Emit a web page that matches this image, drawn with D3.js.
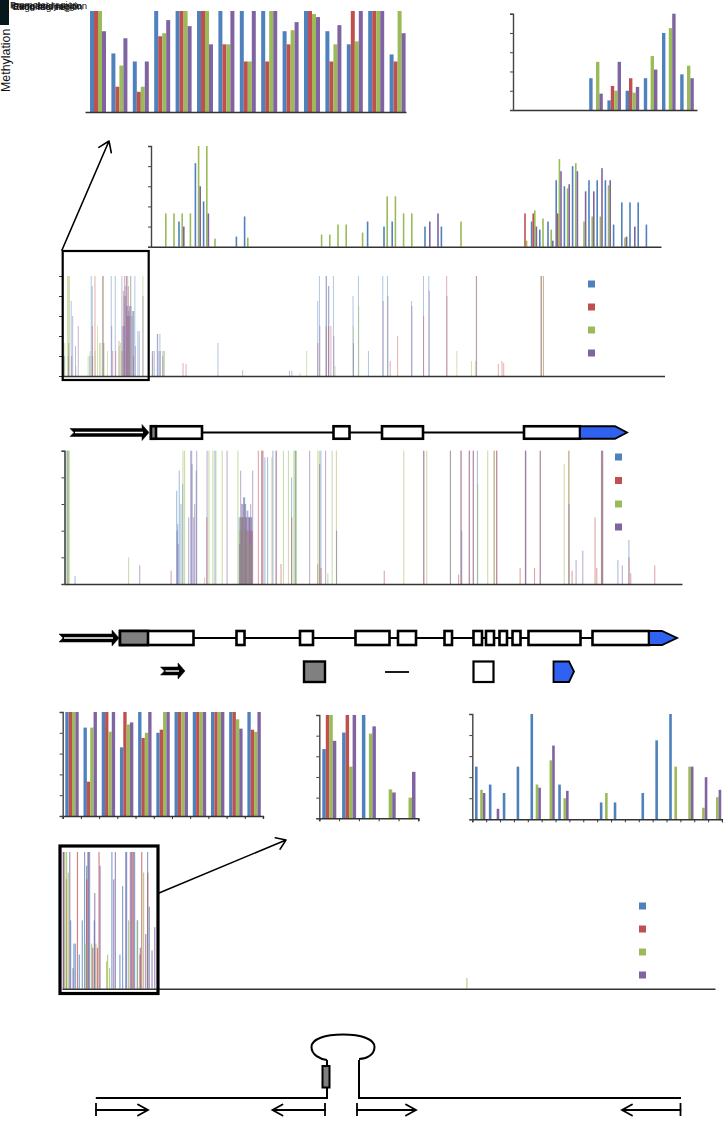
<!DOCTYPE html>
<html><head><meta charset="utf-8">
<script src="https://cdn.jsdelivr.net/npm/d3@7"></script>
<style>html,body{margin:0;padding:0;background:#fff}svg{display:block}text{font-family:"Liberation Sans",Arial,sans-serif}</style>
</head><body><svg id="c" width="723" height="1126"></svg>
<script>
// ---------- series ----------
const seriesNames = ["s1","s2","s3","s4"];
const seriesColors = ["#4f81bd","#c0504d","#9bbb59","#8064a2"];
const yAxisLabel = "Methylation";
const headerLabels = ["Promoter region","Intergenic region","Gene body region","Regulator region","Exon region"];

// Panel A
const aBlue  =[100,58,50,100,100,100,100,100,100,80,100,80,67,100,57];
const aRed   =[100,25,20,75,100,100,67,50,50,67,100,50,100,100,50];
const aGreen =[100,46,25,78,100,100,67,50,100,81,97,67,70,100,100];
const aPurple=[80,73,50,91,85,67,100,100,100,89,94,86,100,100,78];
// Panel B
const bBlue  =[0,0,0,0,33,10,20,33,80,37];
const bRed   =[0,0,0,0,0,25,33,0,0,0];
const bGreen =[0,0,0,0,50,20,18,56,85,46];
const bPurple=[0,0,0,0,17,50,24,42,100,33];
// Panel C (62 sites)
const cBlue  =[0,0,0,25,0,83,45,0,0,0,10,30,0,0,0,0,0,0,0,0,0,0,0,0,0,0,25,0,20,25,0,0,0,20,0,20,0,0,0,0,0,0,0,0,0,0,25,17,25,66,60,80,0,66,66,66,22,44,44,44,22,0];
const cRed   =[0,0,0,0,0,0,0,0,0,0,0,0,0,0,0,0,0,0,0,0,0,0,0,0,0,0,0,0,0,0,0,0,0,0,0,0,0,0,0,0,0,0,0,0,0,33,33,0,0,33,0,0,0,0,0,0,0,0,0,0,0,0];
const cGreen =[0,33,33,33,33,100,100,8,0,0,0,9,0,0,0,0,0,0,0,0,12,12,22,22,0,14,0,0,50,50,33,33,0,0,0,0,0,25,0,0,0,0,0,0,0,6,36,28,17,87,58,83,25,30,30,61,0,9,0,0,0,0];
const cPurple=[0,0,0,20,0,60,33,0,0,0,0,0,0,0,0,0,0,0,0,0,0,0,0,0,0,0,0,0,0,0,0,0,0,25,33,0,0,0,0,0,0,0,0,0,0,0,20,0,6,75,62,75,55,55,78,66,0,10,20,0,0,0];
// Panel F
const fBlue  =[100,85,100,66,100,80,100,100,100,100,100];
const fRed   =[100,33,100,100,75,83,100,100,100,100,83];
const fGreen =[100,85,81,88,80,100,100,100,100,93,81];
const fPurple=[100,100,100,90,100,100,100,100,100,84,100];
// Panel G
const gBlue  =[67,83,100,0,0];
const gRed   =[100,100,0,0,0];
const gGreen =[100,50,82,28,20];
const gPurple=[75,100,89,25,45];
// Panel H
const hBlue  =[50,33,25,50,100,0,33,0,0,16,16,0,25,75,100,0,0,0];
const hRed   =[0,0,0,0,0,0,0,0,0,0,0,0,0,0,0,0,0,0];
const hGreen =[28,0,0,0,33,56,20,0,0,25,0,0,0,0,50,50,11,21];
const hPurple=[25,10,0,0,30,70,27,0,0,0,0,0,0,0,0,50,40,28];

// Panel D: site position then four values
const dSites=[0.7,2,4.7,5.7,6.7,8.7,9.7,13,15.3,25.3,27.3,28.7,29.7,32.3,34.7,36.7,38,40.3,41.3,44.7,48.7,50,52.7,56.3,57.7,59.3,60.7,61.7,62.7,63.7,64.7,65.7,66.7,68,69.3,70.7,72.3,75.3,76.7,80,89.7,91.3,94.7,96.3,97.3,99.7,101.3,120.3,123,155.3,180,226.3,228.7,237,243.7,255,256.7,263.3,265.7,268,270.7,272,290.3,295.7,305.7,320,324.7,327.3,334.7,348.7,360.7,366,383.7,393.7,408.3,412.3,413.3,435.3,439,440.7,478,480.3];
const dBlue  =[0,20,0,0,0,75,0,30,0,0,20,100,90,0,0,0,0,100,0,0,100,0,100,0,0,100,0,80,90,100,70,60,70,100,60,65,100,45,45,0,25,0,42,25,42,0,25,0,0,33,6,0,0,0,0,75,100,100,90,0,100,0,80,100,25,100,100,0,0,75,100,100,0,0,0,0,0,0,0,0,0,0];
const dRed   =[0,0,0,20,0,0,0,0,0,0,0,0,50,100,0,0,0,100,0,0,0,25,0,35,0,25,85,100,0,100,60,90,60,0,0,20,0,0,0,0,0,0,0,0,0,0,0,13,0,0,0,0,0,0,0,33,0,50,50,50,0,0,0,0,0,0,0,15,40,0,60,0,100,0,0,0,100,12,15,13,100,100];
const dGreen =[33,33,100,100,100,0,0,10,0,20,25,0,0,25,50,33,33,100,33,25,0,0,0,30,33,0,33,0,0,0,0,30,0,100,0,0,0,0,0,100,20,0,0,0,0,25,25,0,0,0,0,0,0,3,25,0,0,0,0,0,0,10,50,70,0,0,0,0,0,0,0,0,0,25,15,15,0,0,0,0,100,100];
const dPurple=[20,0,0,33,0,20,60,0,50,0,0,0,20,0,0,0,0,33,0,0,50,0,25,0,0,50,50,50,80,70,100,65,70,70,65,65,30,0,0,80,25,25,42,0,25,20,0,0,12,0,0,5,5,0,0,0,50,100,90,0,40,0,33,0,0,75,80,0,0,70,0,85,80,0,0,0,100,0,0,0,100,0];

// Panel E
const eSites=[2,3,4,10,63.3,74.3,106,111.7,112.7,114.3,116,117.7,119.3,123.3,125.3,126.7,128.3,129.3,131.3,139.3,141.7,143.7,147.7,150,150.7,157,161.7,172.7,174.3,175.3,176.3,177.3,178.7,179.7,180.7,181.7,183,184.3,185.3,186.3,187.3,193.3,196.7,198,200,202.7,206.7,208,211,216,218.3,223.3,226.7,228.7,230.3,231,244.3,252.7,254.3,256,260.3,262.7,267,271.3,319.3,338.7,358.7,361.7,385.3,393.7,396,397,404.3,408.3,412.7,422.7,429.3,431.7,455.3,460.7,469.7,475.3,499.3,504,507.3,511,517.7,530.3,532,536.7,537.7,553.3,557.3,564.3,566,590];
const eBlue  =[100,100,0,6,0,0,0,70,45,85,60,75,0,0,0,100,0,0,85,0,0,0,0,100,0,0,0,0,50,50,50,50,65,65,60,50,55,50,50,50,0,0,0,0,95,95,0,100,0,0,0,0,80,0,100,100,0,0,0,100,0,0,0,0,0,0,0,0,0,0,0,40,0,0,100,0,0,0,0,100,0,0,0,0,0,0,0,0,0,0,0,18,0,33,0,0];
const eRed   =[0,0,0,0,0,0,10,0,0,0,0,0,0,0,0,0,0,0,0,0,50,0,0,0,0,0,0,0,0,0,40,50,50,40,50,40,40,50,40,40,40,100,100,100,0,0,0,0,100,15,0,0,50,0,0,0,0,15,0,12,0,0,0,0,10,0,100,0,0,7,100,0,100,100,0,0,100,100,12,100,12,100,0,100,10,0,0,50,12,100,100,0,0,20,8,14];
const eGreen =[100,100,100,0,20,0,0,0,0,0,0,100,100,0,0,0,0,0,0,5,0,100,100,0,100,100,0,100,40,50,50,30,60,50,40,40,30,30,30,30,0,0,0,0,0,0,95,0,0,0,100,100,0,100,100,100,0,100,100,0,0,8,100,100,0,100,0,100,100,0,0,0,0,0,75,100,100,0,0,0,0,0,90,100,0,0,0,0,0,90,0,0,0,0,0,0];
const ePurple=[0,0,0,0,0,14,0,40,30,0,0,0,0,50,100,90,50,60,100,0,100,0,0,0,0,0,100,0,30,85,60,60,65,60,50,55,50,50,60,50,85,0,100,0,0,0,0,0,100,0,0,0,0,0,0,0,100,0,90,0,100,0,0,40,0,0,100,0,100,0,100,0,100,100,0,0,0,100,0,100,0,100,0,60,0,18,25,0,0,100,100,0,14,0,0,0];

// Panel I
const iSites=[0.7,2,3.7,5.3,6.7,8,10,11.3,12.7,14.7,16.7,19.7,22,23,24,25.3,27,28.7,30,31.7,33,34.7,36.3,37,43.7,44.7,46.7,49.3,50.7,52.3,57.3,60,62.7,64,65.7,67.3,69,70.7,72,74.7,77.3,79,80.7,82.7,85,86.7,89,91.7,404];
const iBlue  =[100,0,0,0,0,50,0,33,33,0,25,50,100,0,90,0,100,0,0,50,0,0,0,0,0,0,0,100,0,0,25,75,0,100,0,0,0,0,100,50,0,0,0,0,100,60,0,0,0];
const iRed   =[100,0,80,0,0,0,0,0,0,100,0,0,0,0,80,100,0,0,30,0,0,30,100,0,0,0,0,0,0,0,0,0,0,0,0,0,100,100,0,0,25,100,0,0,85,0,0,0,0];
const iGreen =[0,100,100,85,0,0,0,0,0,0,0,0,0,33,0,0,0,33,0,0,33,0,0,0,20,25,15,0,0,0,0,0,0,0,50,0,0,0,0,50,0,0,85,0,0,0,0,0,8];
const iPurple=[100,0,0,0,100,0,15,0,0,0,0,0,0,0,0,100,0,0,0,70,0,0,0,90,0,0,0,0,80,100,0,0,100,0,0,100,100,0,0,0,30,0,0,40,0,0,28,45,0];

// Gene models
const gene1Exons=[[151,202],[333.5,349.5],[382,423],[524,580]];
const gene1Utr=[[151,156]];
const gene2Exons=[[120,193.5],[236.5,244.5],[300,313],[355.5,389.5],[398,416],[444.5,452],[473.5,482],[486,494],[499.5,507],[512.5,520.5],[528.5,580.5],[592.5,649]];
const gene2Utr=[[120,148]];

// ---------- drawing ----------
const svg=d3.select("#c");
function styleAxis(g,col){g.selectAll("path,line").attr("stroke",col).attr("shape-rendering","auto");g.selectAll("text").remove();}

function grouped(o){
  const n=o.data[0].length;
  const edge=d3.scaleLinear().domain([0,n]).range(o.edges);
  const sub=d3.scaleBand().domain(seriesNames).range([o.lead,o.lead+4*o.bw]);
  const y=d3.scaleLinear().domain([0,100]).range(o.yr);
  const g=svg.append("g");
  o.data.forEach((vals,k)=>{
    g.append("g").attr("fill",seriesColors[k]).selectAll("rect").data(vals).join("rect")
     .attr("x",(d,i)=>edge(i)+sub(seriesNames[k])).attr("width",sub.bandwidth())
     .attr("y",d=>y(d)).attr("height",d=>y(0)-y(d)).attr("opacity",d=>d?1:0);
  });
  axes(g,o,y);
}
function axes(g,o,y){
  const ax=d3.scaleLinear().domain([0,o.ticks||1]).range(o.axisX);
  const bot=g.append("g").attr("transform",`translate(0,${o.yr[0]})`)
    .call(d3.axisBottom(ax).tickValues(o.ticks?d3.range(o.ticks+1):[]).tickSize(o.ticks?3:0).tickSizeOuter(o.ticks?3:0));
  styleAxis(bot,"#333"); bot.select("path").attr("stroke-width",1.4);
  if(o.left!==false){
    const l=g.append("g").attr("transform",`translate(${o.axisX[0]},0)`)
      .call(d3.axisLeft(y).ticks(5).tickSize(3).tickSizeOuter(3));
    styleAxis(l,o.leftCol||"#444"); l.select("path").attr("stroke-width",o.leftW===undefined?1.4:o.leftW);
    l.selectAll("line").attr("stroke-width",1);
  }
}
grouped({data:[aBlue,aRed,aGreen,aPurple],edges:[85,406],lead:5,bw:4,yr:[112,11],axisX:[85,406],left:false});
grouped({data:[bBlue,bRed,bGreen,bPurple],edges:[512,694],lead:4.4,bw:3.4,yr:[110,13.7],axisX:[513,697]});
grouped({data:[cBlue,cRed,cGreen,cPurple],edges:[153.6,662],lead:0,bw:1.6,yr:[246.7,146],axisX:[151,661]});
grouped({data:[fBlue,fRed,fGreen,fPurple],edges:[62.7,263],lead:2.6,bw:3.35,yr:[816,712],axisX:[62.7,263],ticks:11});
grouped({data:[gBlue,gRed,gGreen,gPurple],edges:[319.3,418.3],lead:3,bw:3.5,yr:[818.3,715],axisX:[319.3,418.3],ticks:5});
grouped({data:[hBlue,hRed,hGreen,hPurple],edges:[472.3,722],lead:2.7,bw:2.6,yr:[819.3,714],axisX:[472.3,722],ticks:18});

function spikes(o){
  const x=d3.scaleLinear().domain([0,o.xMax]).range(o.axisX);
  const y=d3.scaleLinear().domain([0,100]).range(o.yr);
  const g=svg.append("g");
  o.data.forEach((vals,k)=>{
    g.append("g").attr("fill",seriesColors[k]).attr("fill-opacity",o.op).selectAll("rect").data(vals).join("rect")
     .attr("x",(d,i)=>x(o.sites[i])+k*0.15).attr("width",o.w)
     .attr("y",d=>y(d)).attr("height",d=>y(0)-y(d));
  });
  axes(g,o,y);
}
spikes({sites:dSites,data:[dBlue,dRed,dGreen,dPurple],xMax:602,axisX:[62,664.5],yr:[376,276],w:1,op:0.45,leftCol:"#333",leftW:0});
spikes({sites:eSites,data:[eBlue,eRed,eGreen,ePurple],xMax:618,axisX:[64.5,682],yr:[584,450.7],w:1.1,op:0.5,leftCol:"#444",leftW:1.6});
spikes({sites:iSites,data:[iBlue,iRed,iGreen,iPurple],xMax:653,axisX:[62,715],yr:[988.7,852],w:1.2,op:0.7,left:false});

// legends
function legend(x,ys){
  const s=d3.scaleOrdinal().domain(seriesNames).range(ys);
  svg.append("g").selectAll("rect").data(seriesNames).join("rect")
   .attr("x",x).attr("y",d=>s(d)-3.5).attr("width",7).attr("height",7)
   .attr("fill",(d,i)=>seriesColors[i]);
}
legend(588,[284,307,330,353]);
legend(615,[457,480.5,504,527]);
legend(639,[906,929,952,975]);

// inset boxes and arrows
const lineG=svg.append("g").attr("fill","none").attr("stroke","#000").attr("stroke-linecap","round").attr("stroke-linejoin","round");
lineG.append("rect").attr("x",62.7).attr("y",251).attr("width",86).attr("height",129).attr("stroke-width",2.2).attr("stroke-linejoin","miter");
lineG.append("rect").attr("x",60).attr("y",846).attr("width",98).attr("height",147.5).attr("stroke-width",3.2).attr("stroke-linejoin","miter");
function arrow(x1,y1,x2,y2,sw,hl){
  const a=Math.atan2(y2-y1,x2-x1),h=hl||9,d=0.6;
  lineG.append("path").attr("stroke-width",sw)
   .attr("d",`M${x1},${y1}L${x2},${y2}M${x2-h*Math.cos(a-d)},${y2-h*Math.sin(a-d)}L${x2},${y2}L${x2-h*Math.cos(a+d)},${y2-h*Math.sin(a+d)}`);
}
arrow(62,250,109,141,1.6,12);
arrow(159,893,286,840,1.5,11);

// gene models
function promoterArrow(x0,x1,y,sw){
  const g=svg.append("g");
  g.append("path").attr("fill","#000").attr("stroke","#000").attr("stroke-width",0.5)
   .attr("d",`M${x0},${y-4}L${x1-7},${y-4}L${x1-7},${y-8}L${x1},${y}L${x1-7},${y+8}L${x1-7},${y+4}L${x0},${y+4}L${x0+4},${y}Z`);
  g.append("line").attr("x1",x0+5).attr("x2",x1-6).attr("y1",y).attr("y2",y).attr("stroke","#fff").attr("stroke-width",sw);
}
function gene(y,h,x0,x1,exons,utr,tipStart,notch,tip,arrowX){
  const x=d3.scaleLinear().domain([0,723]).range([0,723]);
  svg.append("line").attr("x1",x(x0)).attr("x2",x(x1)).attr("y1",y).attr("y2",y).attr("stroke","#000").attr("stroke-width",2);
  promoterArrow(arrowX[0],arrowX[1],y,1.6);
  svg.append("g").selectAll("rect").data(exons).join("rect")
   .attr("x",d=>x(d[0])).attr("width",d=>x(d[1])-x(d[0])).attr("y",y-h/2).attr("height",h)
   .attr("fill","#fff").attr("stroke","#000").attr("stroke-width",2.6);
  svg.append("g").selectAll("rect").data(utr).join("rect")
   .attr("x",d=>x(d[0])).attr("width",d=>x(d[1])-x(d[0])).attr("y",y-h/2).attr("height",h)
   .attr("fill","#808080").attr("stroke","#000").attr("stroke-width",2.6);
  svg.append("path").attr("fill","#2f62f0").attr("stroke","#000").attr("stroke-width",1.8)
   .attr("d",`M${x(tipStart)},${y-h/2}L${x(notch)},${y-h/2}L${x(tip)},${y}L${x(notch)},${y+h/2}L${x(tipStart)},${y+h/2}Z`);
}
gene(432.5,12.5,202,580,gene1Exons,gene1Utr,580,615,627,[70,149]);
gene(638,14,193,649,gene2Exons,gene2Utr,649,662,677,[59,119]);

// gene key
promoterArrow(160.5,185,671,1.4);
svg.append("rect").attr("x",304).attr("y",661.5).attr("width",21).attr("height",20.5).attr("fill","#808080").attr("stroke","#000").attr("stroke-width",2.4);
svg.append("line").attr("x1",385).attr("x2",409).attr("y1",672).attr("y2",672).attr("stroke","#000").attr("stroke-width",1.8);
svg.append("rect").attr("x",473.5).attr("y",661.5).attr("width",20).attr("height",20.5).attr("fill","#fff").attr("stroke","#000").attr("stroke-width",2.2);
svg.append("path").attr("d","M553.5,661.5L569,661.5L574,671.5L569,682L553.5,682Z").attr("fill","#2f62f0").attr("stroke","#000").attr("stroke-width",1.8);

// bottom schematic
const s=svg.append("g").attr("fill","none").attr("stroke","#000").attr("stroke-linejoin","miter");
s.append("path").attr("stroke-width",2).attr("d","M95.8,1098L327,1098L327,1060");
s.append("path").attr("stroke-width",2).attr("d","M681,1098L359,1098L359,1060");
s.append("path").attr("stroke-width",2).attr("d","M327,1060C320,1059 311.5,1055 311.5,1047C311.5,1039 325,1034.5 343,1034.5C361,1034.5 374.5,1039 374.5,1047C374.5,1055 366,1059 359,1059");
s.append("rect").attr("x",322.5).attr("y",1066).attr("width",7).attr("height",21.5).attr("fill","#808080").attr("stroke-width",2);
[[96,148],[325,272.5],[357,416],[680.5,622]].forEach(([a,b])=>{
  s.append("line").attr("x1",a).attr("x2",a).attr("y1",1103).attr("y2",1116).attr("stroke-width",1.8);
  const dir=b>a?1:-1;
  s.append("path").attr("stroke-width",1.8).attr("stroke-linecap","round")
   .attr("d",`M${a},1110L${b},1110M${b-dir*10},1104.5L${b},1110L${b-dir*10},1115.5`);
});

// header: overlapped labels as they appear in the source
svg.append("rect").attr("x",0).attr("y",0).attr("width",9).attr("height",25).attr("fill","#06181c");
headerLabels.forEach((t,i)=>{
  svg.append("text").attr("x",10+i*0.8).attr("y",8+i*0.5).attr("font-size",9.5).attr("fill","#111").text(t);
});
svg.append("text").attr("transform","translate(10,92) rotate(-90)").attr("font-size",12.4).attr("fill","#111").text(yAxisLabel);
</script></body></html>
